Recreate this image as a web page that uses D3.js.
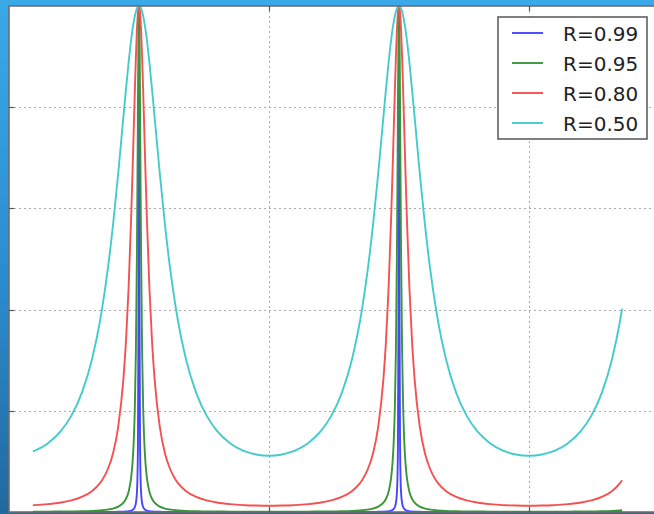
<!DOCTYPE html>
<meta charset="utf-8">
<title>Fabry-Perot transmission</title>
<script src="https://cdn.jsdelivr.net/npm/d3@7"></script>
<style>
  html, body { margin: 0; padding: 0; }
  body { width: 654px; height: 514px; overflow: hidden;
         background: linear-gradient(#3aa9e8, #2a8cd0 55%, #22689f); }
</style>
<body>
<script>

// reflectivities in the legend
var labels = ["R=0.99", "R=0.95", "R=0.80", "R=0.50"];
var colors = ["#4646ff", "#3a963a", "#f45252", "#45cbcb"];

// distance from a peak (one period = 1 x unit)
var offsets = [0, 0.002, 0.004, 0.006, 0.008, 0.012, 0.016, 0.02, 0.025, 0.03,
               0.04, 0.05, 0.06, 0.08, 0.1, 0.12, 0.142, 0.15, 0.18, 0.22,
               0.26, 0.3, 0.35, 0.4, 0.408, 0.45, 0.5];

// transmission at those offsets, one list per curve
var t99 = [1, 0.390, 0.1379, 0.0664, 0.0384, 0.0175, 0.0099, 0.0064, 0.0041, 0.0028,
           0.0016, 0.0010, 0.0007, 0.0004, 0.0003, 0.0002, 0.0001, 0.0001, 0.0001, 0.0001,
           0, 0, 0, 0, 0, 0, 0];
var t95 = [1, 0.9434, 0.8065, 0.6493, 0.5102, 0.3166, 0.2067, 0.1430, 0.0966, 0.0691,
           0.0402, 0.0262, 0.0184, 0.0105, 0.0068, 0.0048, 0.0035, 0.0032, 0.0023, 0.0016,
           0.0012, 0.0010, 0.0008, 0.0007, 0.0007, 0.0007, 0.0007];
var t80 = [1, 0.9969, 0.9875, 0.9724, 0.9519, 0.8980, 0.8320, 0.7602, 0.6700, 0.5853,
           0.4431, 0.3381, 0.2625, 0.1681, 0.1157, 0.0845, 0.0629, 0.0572, 0.0417, 0.0298,
           0.0230, 0.0187, 0.0155, 0.0136, 0.0134, 0.0127, 0.0123];
var t50 = [1, 0.9997, 0.9987, 0.9972, 0.9950, 0.9888, 0.9802, 0.9694, 0.9531, 0.9338,
           0.8883, 0.8363, 0.7807, 0.6690, 0.5669, 0.4798, 0.4018, 0.3775, 0.3033, 0.2353,
           0.1904, 0.1604, 0.1360, 0.1214, 0.1198, 0.1136, 0.1111];

var peaks = [0.5, 1.5, 2.5];
var xRange = [0.092, 2.358];
var xTicks = [0, 1, 2];
var yTicks = [0, 0.2, 0.4, 0.6, 0.8, 1.0];

var svg_w = 654
   ,svg_h = 514;

var x = d3.scaleLinear().domain([0, 2.5]).range([9, 659]);
var y = d3.scaleLinear().domain([0, 1]).range([512, 6]);

var svg = d3.select("body").append("svg")
            .attr("width", svg_w)
            .attr("height", svg_h)
            .style("display", "block");

svg.append("defs").append("clipPath").attr("id", "clip")
  .append("rect")
    .attr("x", x(0)).attr("y", y(1))
    .attr("width", x(2.5) - x(0)).attr("height", y(0) - y(1));

svg.append("rect")
  .attr("x", x(0)).attr("y", y(1))
  .attr("width", x(2.5) - x(0)).attr("height", y(0) - y(1))
  .attr("fill", "#fff");

// dotted grid
svg.append("g").selectAll("line")
  .data(xTicks.slice(1))
  .enter().append("line")
    .attr("x1", function (d) { return x(d) + 0.5 })
    .attr("x2", function (d) { return x(d) + 0.5 })
    .attr("y1", y(1)).attr("y2", y(0))
    .attr("stroke", "#ababab").attr("stroke-dasharray", "2,3");

svg.append("g").selectAll("line")
  .data(yTicks.slice(1, -1))
  .enter().append("line")
    .attr("y1", function (d) { return Math.round(y(d)) + 0.5 })
    .attr("y2", function (d) { return Math.round(y(d)) + 0.5 })
    .attr("x1", x(0)).attr("x2", x(2.5))
    .attr("stroke", "#ababab").attr("stroke-dasharray", "2,3");

// mirror each profile around the peaks
var curves = [t99, t95, t80, t50].map(function (vals) {
  var pts = [];
  peaks.forEach(function (p) {
    offsets.forEach(function (o, i) {
      [p - o, p + o].forEach(function (px) {
        if (px >= xRange[0] - 1e-6 && px <= xRange[1] + 1e-6) pts.push([px, vals[i]]);
      });
    });
  });
  pts.sort(function (a, b) { return a[0] - b[0] });
  return pts.filter(function (d, i) {
    return i == 0 || Math.abs(d[0] - pts[i - 1][0]) > 1e-6;
  });
});

var line = d3.line()
  .x(function (d) { return x(d[0]) })
  .y(function (d) { return y(d[1]) })
  .curve(d3.curveMonotoneX);

svg.append("g").attr("clip-path", "url(#clip)")
  .selectAll("path")
  .data(curves)
  .enter().append("path")
    .attr("d", line)
    .attr("fill", "none")
    .attr("stroke", function (d, i) { return colors[i] })
    .attr("stroke-width", 1.9);

// frame and inward ticks
svg.append("rect")
  .attr("x", x(0)).attr("y", y(1))
  .attr("width", x(2.5) - x(0)).attr("height", y(0) - y(1))
  .attr("fill", "none").attr("stroke", "#6e6e6e").attr("stroke-width", 1.6);

var ticks = svg.append("g").attr("stroke", "#555").attr("stroke-width", 1.2);
yTicks.slice(1, -1).forEach(function (d) {
  ticks.append("line").attr("x1", x(0)).attr("x2", x(0) + 5)
    .attr("y1", Math.round(y(d)) + 0.5).attr("y2", Math.round(y(d)) + 0.5);
  ticks.append("line").attr("x1", x(2.5)).attr("x2", x(2.5) - 5)
    .attr("y1", Math.round(y(d)) + 0.5).attr("y2", Math.round(y(d)) + 0.5);
});
xTicks.slice(1).forEach(function (d) {
  ticks.append("line").attr("x1", x(d) + 0.5).attr("x2", x(d) + 0.5)
    .attr("y1", y(1)).attr("y2", y(1) + 5);
  ticks.append("line").attr("x1", x(d) + 0.5).attr("x2", x(d) + 0.5)
    .attr("y1", y(0)).attr("y2", y(0) - 5);
});

// legend
var legend = svg.append("g").attr("transform", "translate(498,17)");
legend.append("rect")
  .attr("width", 149).attr("height", 122)
  .attr("fill", "#fff").attr("stroke", "#555").attr("stroke-width", 1.5);

var rows = legend.selectAll(".row")
  .data(labels)
  .enter().append("g")
    .attr("transform", function (d, i) { return "translate(0," + (16 + i * 30) + ")" });

rows.append("line")
  .attr("x1", 14).attr("x2", 45)
  .attr("stroke", function (d, i) { return colors[i] })
  .attr("stroke-width", 1.9);

rows.append("text")
  .attr("x", 65).attr("y", 8)
  .style("font-family", "DejaVu Sans")
  .style("font-size", "20px")
  .attr("fill", "#222")
  .text(function (d) { return d });

</script>
</body>
